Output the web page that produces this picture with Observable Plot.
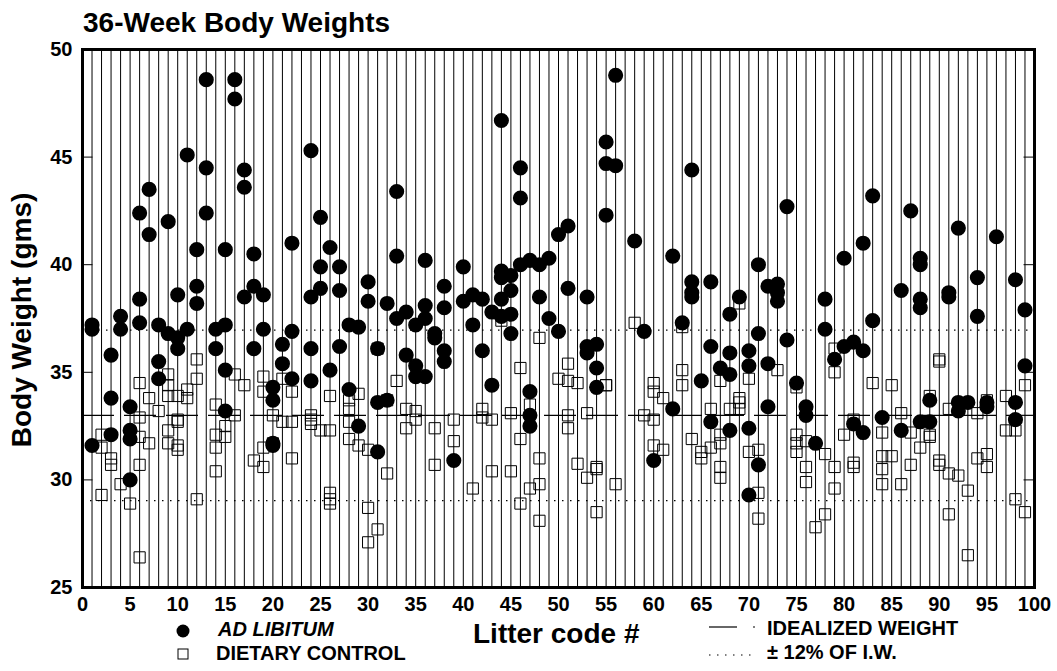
<!DOCTYPE html>
<html><head><meta charset="utf-8">
<script src="https://cdn.jsdelivr.net/npm/d3@7"></script>
<script src="https://cdn.jsdelivr.net/npm/@observablehq/plot@0.6"></script>
<style>
body{margin:0;background:#fff;font-family:"Liberation Sans",Arial,sans-serif;color:#000}
#wrap{position:relative;width:1057px;height:671px;overflow:hidden;background:#fff}
#chart{position:absolute;left:0;top:0}
#title{position:absolute;left:83px;top:9px;font-size:28px;font-weight:bold;line-height:1;white-space:nowrap}
#ylabel{position:absolute;left:22px;top:320px;transform:translate(-50%,-50%) rotate(-90deg);font-size:28px;font-weight:bold;white-space:nowrap;line-height:1}
.leg{position:absolute;font-weight:bold;font-size:20px;white-space:nowrap;line-height:1}
.sym{position:absolute}
</style></head>
<body><div id="wrap">
<div id="chart"></div>
<div id="title">36-Week Body Weights</div>
<div id="ylabel">Body Weight (gms)</div>
<svg class="sym" style="left:176px;top:624px" width="14" height="14"><circle cx="7" cy="7" r="6.5" fill="#000"/></svg>
<div class="leg" style="left:218px;top:619px;font-style:italic">AD LIBITUM</div>
<svg class="sym" style="left:177px;top:648px" width="12" height="12"><rect x="1" y="1" width="10" height="10" fill="none" stroke="#000"/></svg>
<div class="leg" style="left:216px;top:643px">DIETARY CONTROL</div>
<div class="leg" style="left:473px;top:620px;font-size:28px">Litter code #</div>
<svg class="sym" style="left:705px;top:621px" width="56" height="12"><line x1="4" y1="6" x2="32" y2="6" stroke="#000" stroke-width="1.2"/><line x1="48" y1="6" x2="50" y2="6" stroke="#000" stroke-width="1.2"/></svg>
<div class="leg" style="left:767px;top:618px">IDEALIZED WEIGHT</div>
<svg class="sym" style="left:705px;top:649px" width="56" height="12"><line x1="4" y1="6" x2="48" y2="6" stroke="#000" stroke-width="1.2" stroke-dasharray="1.5,6.5"/></svg>
<div class="leg" style="left:767px;top:642px">± 12% OF I.W.</div>
</div>
<script>
// Litter code, then the weights (g) read for that litter
const adLibitum = [
  [1,37.2,37.0,31.6],[3,35.8,33.8,32.1],[4,37.6,37.0],[5,33.4,32.3,31.9,30.0],
  [6,42.4,38.4,37.3],[7,43.5,41.4],[8,37.2,35.5,34.7],[9,42.0,36.8],
  [10,38.6,36.6,36.1],[11,45.1,37.0],[12,40.7,39.0,38.2],[13,48.6,44.5,42.4],
  [14,37.0,36.1],[15,40.7,37.2,35.1,33.2],[16,48.6,47.7],[17,44.4,43.6,38.5],
  [18,40.5,39.0,36.1],[19,38.6,37.0],[20,34.3,33.7,31.7,31.6],[21,36.3,35.4],
  [22,41.0,36.9,34.7],[24,45.3,38.5,36.1,34.6],[25,42.2,39.9,38.9],[26,40.8,35.1],
  [27,39.9,38.8,36.2],[28,37.2,34.2],[29,37.1,32.5],[30,39.2,38.3],
  [31,36.1,33.6,31.3],[32,38.2,33.7],[33,43.4,40.4,37.5],[34,37.8,35.8],
  [35,37.2,35.3,34.8],[36,40.2,38.1,37.5,34.8],[37,36.8,36.6],[38,39.0,38.0,36.0,35.5],
  [39,30.9],[40,39.9,38.3],[41,38.6,37.2],[42,38.4,36.0],[43,37.8,34.4],
  [44,46.7,39.7,39.4,38.4,37.6],[45,39.5,38.8,37.7,36.8],[46,44.5,43.1,40.0],
  [47,40.2,34.1,33.0,32.5],[48,40.0,38.5],[49,40.3,37.5],[50,41.4,36.9],
  [51,41.8,38.9],[53,38.5,36.2,35.9],[54,36.3,35.2,34.3],[55,45.7,44.7,42.3],
  [56,48.8,44.6],[58,41.1],[59,36.9],[60,30.9],[62,40.4,33.3],[63,37.3],
  [64,44.4,39.2,38.7,38.5],[65,34.6],[66,39.2,36.2,32.7],[67,35.2],
  [68,37.7,35.9,34.9,32.3],[69,38.5],[70,36.0,35.3,32.4,29.3],[71,40.0,36.8,30.7],
  [72,39.0,35.4,33.4],[73,39.1,38.7,38.3],[74,42.7,36.5],[75,34.5],[76,33.4,33.0],
  [77,31.7],[78,38.4,37.0],[79,35.6],[80,40.3,36.2],[81,36.4,32.6],[82,41.0,36.0,32.2],
  [83,43.2,37.4],[84,32.9],[86,38.8,32.3],[87,42.5],[88,40.3,40.0,38.4,38.0,32.7],
  [89,33.7,32.7],[91,38.7,38.5],[92,41.7,33.6,33.2],[93,33.6],[94,39.4,37.6],
  [95,33.6,33.4],[96,41.3],[98,39.3,33.6,32.8],[99,37.9,35.3]
];
const dietaryControl = [
  [2,32.1,31.5,29.3],[3,31.0,30.7],[4,29.8],[5,28.9],[6,34.5,32.9,32.0,30.7,26.4],
  [7,33.8,31.7],[8,33.2],[9,34.9,34.4,33.9,32.3,31.7],[10,33.9,32.8,32.7,31.6,31.4],
  [11,34.2,33.8],[12,35.6,34.7,29.1],[14,33.5,32.1,31.5,30.4],[15,32.5,32.0],
  [16,34.9,33.0],[17,34.4],[18,30.9],[19,34.8,34.1,31.5,30.6],[20,33.0,31.7],
  [21,34.7,32.7],[22,34.1,32.7,31.0],[24,33.0,32.8,32.6],[25,32.3],
  [26,33.9,32.3,29.4,29.1,28.9],[28,33.7,33.3,32.7,31.9],[29,34.0,31.6],
  [30,31.4,28.7,27.1],[31,36.1,27.7],[32,33.7,30.3],[33,34.6],[34,33.3,32.4],
  [35,33.2,32.8],[37,32.4,30.7],[39,32.8,31.8],[41,29.6],[42,33.3,32.9],[43,32.8,30.4],
  [44,37.4],[45,33.1,30.4],[46,35.2,31.9,28.9],[47,33.5,29.6],[48,36.6,31.0,29.8,28.1],
  [50,34.7],[51,35.4,34.6,33.0,32.4],[52,34.5,30.75],[53,33.1,30.1],[54,30.6,30.5,28.5],
  [55,34.4,34.4],[56,29.8],[58,37.3],[59,33.0],[60,34.5,34.1,32.8,31.6],[61,33.8,31.4],
  [63,37.1,35.1,34.4],[64,31.9],[65,31.3,31.0],[66,33.3,31.5],[67,34.6,32.1,31.7,30.6,30.1],
  [68,33.3],[69,38.2,33.8,33.6,33.3],[70,34.7,31.3],[71,31.4,29.4,28.2],[73,35.1],
  [75,34.3,32.1,31.7,31.3],[76,31.8,30.6,29.9],[77,27.8],[78,31.2,28.4],
  [79,36.1,35.0,30.6,29.6],[80,32.1],[81,32.8,30.8,30.6],[83,34.5],[84,32.2,31.1,30.5,29.8],
  [85,34.4,31.1],[86,33.1,29.8],[87,32.2,30.7],[88,31.5],[89,33.9,32.1,32.0],
  [90,35.6,35.5,30.9,30.7],[91,33.3,30.3,28.4],[92,30.2],[93,29.5,26.5],[94,33.1,31.0],
  [95,33.7,31.2,30.6],[97,33.9,32.3],[98,32.3,29.1],[99,34.4,28.5]
];
const idealizedWeight = 33;
const tolerance = 0.12;
const xTickValues = [0,5,10,15,20,25,30,35,40,45,50,55,60,65,70,75,80,85,90,95,100];
const yTickValues = [25,30,35,40,45,50];
const xDomain = [0, 100];
const yDomain = [25, 50];

const flat = rows => rows.flatMap(([code, ...ws]) => ws.map(w => ({code, w})));
const adLib = flat(adLibitum);
const dietary = flat(dietaryControl);
const litterLines = d3.range(xDomain[0] + 1, xDomain[1]);
const innerTicks = yTickValues.slice(1, -1);
const tickLen = 1.1; // in litter units (~10px)

const plot = Plot.plot({
  width: 1057, height: 625,
  marginLeft: 82, marginRight: 23, marginTop: 49, marginBottom: 38,
  style: {fontFamily: "'Liberation Sans', Arial, sans-serif", fontSize: "20px", fontWeight: "bold", background: "white", color: "black", overflow: "visible"},
  x: {domain: xDomain, ticks: xTickValues, tickSize: 0, tickPadding: 9, label: null},
  y: {domain: yDomain, ticks: yTickValues, tickSize: 0, tickPadding: 10, label: null},
  marks: [
    Plot.ruleX(litterLines, {stroke: "black", strokeWidth: 1}),
    Plot.ruleY([idealizedWeight], {stroke: "black", strokeWidth: 1.2, strokeDasharray: "32,10"}),
    Plot.ruleY([idealizedWeight * (1 + tolerance), idealizedWeight * (1 - tolerance)], {stroke: "black", strokeWidth: 1.2, strokeDasharray: "1.5,6.5"}),
    Plot.ruleY(innerTicks, {x1: xDomain[0], x2: xDomain[0] + tickLen, stroke: "black"}),
    Plot.ruleY(innerTicks, {x1: xDomain[1] - tickLen, x2: xDomain[1], stroke: "black"}),
    Plot.dot(dietary, {x: "code", y: "w", symbol: "square", r: 6.3, stroke: "black", fill: "none", strokeWidth: 1}),
    Plot.dot(adLib, {x: "code", y: "w", r: 6.8, fill: "black", stroke: "black"}),
    Plot.frame({stroke: "black", strokeWidth: 3})
  ]
});
document.getElementById("chart").appendChild(plot);
</script>
</body></html>
